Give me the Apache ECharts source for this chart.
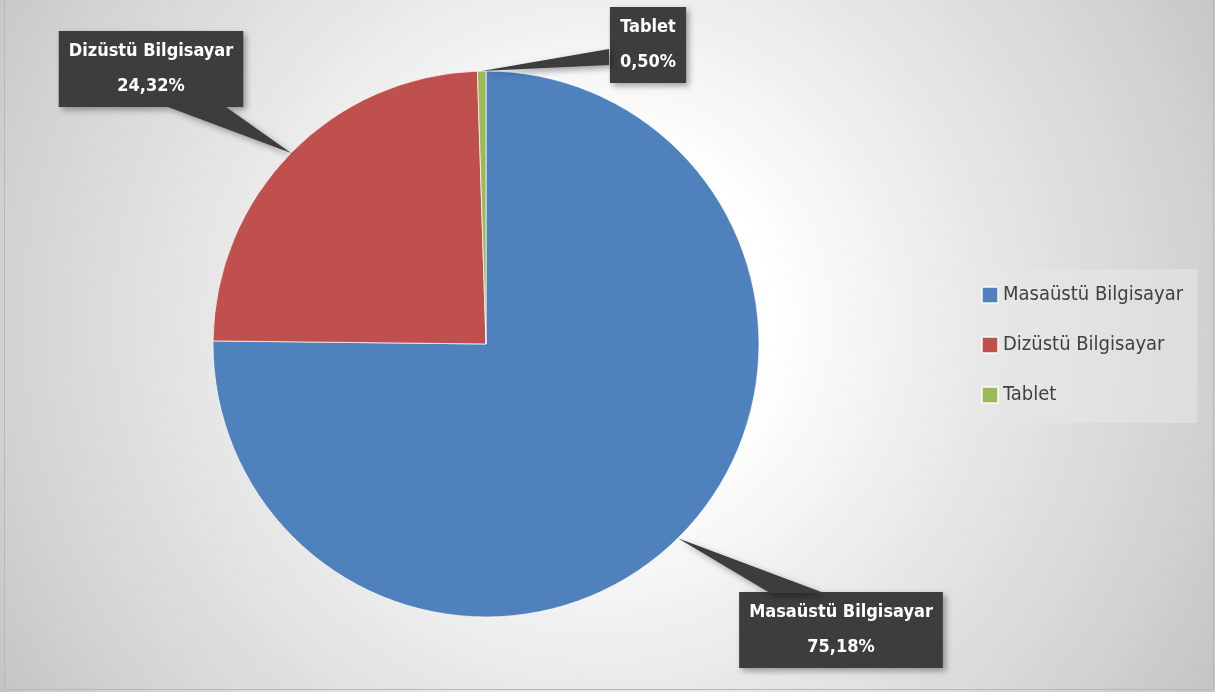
<!DOCTYPE html>
<html>
<head>
<meta charset="utf-8">
<script src="https://cdn.jsdelivr.net/npm/echarts@6/dist/echarts.min.js"></script>
<style>
  html, body { margin: 0; padding: 0; }
  body { width: 1215px; height: 692px; position: relative; overflow: hidden; background: #cfcfcf; }
  #chart {
    position: absolute; left: 0; top: 0; width: 1215px; height: 692px;
    background: radial-gradient(circle at 600px 320px, #ffffff 0px, #ffffff 170px, #e6e6e6 400px, #d2d2d2 600px, #c3c3c3 720px);
  }
  .frame {
    position: absolute; left: 4px; top: -1px; width: 1208px; height: 689px;
    border: 1px solid #b9b9b9; pointer-events: none;
  }
</style>
</head>
<body>
<div id="chart"></div>
<div class="frame"></div>
<script>
const categories = ['Masaüstü Bilgisayar', 'Dizüstü Bilgisayar', 'Tablet']
const shares = [75.18, 24.32, 0.50]
const colors = ['#4f81bd', '#c0504d', '#9bbb59']

// callout box centres and the two base corners of each pointer wedge
const calloutBox = [{ x: 841, y: 630 }, { x: 151, y: 69 }, { x: 648, y: 45 }]
const calloutBase = [
  [[770, 593], [824, 593]],
  [[168, 107], [226, 107]],
  [[609, 49], [609, 65]],
]

const pieCenter = [486, 344]
const pieRadius = 273
const font = "'Liberation Sans Narrow', 'DejaVu Sans Condensed', sans-serif"
const boxColor = '#3d3d3d'

function fmt(v) {
  return v.toFixed(2).replace('.', ',') + '%'
}

// pointer tips sit on the rim at each slice's mid angle
function wedges() {
  const total = shares.reduce((a, b) => a + b, 0)
  let start = 90
  return shares.map((v, i) => {
    const span = v / total * 360
    const mid = (start - span / 2) * Math.PI / 180
    start -= span
    const tip = [pieCenter[0] + pieRadius * Math.cos(mid), pieCenter[1] - pieRadius * Math.sin(mid)]
    return {
      type: 'polygon',
      z: 3,
      shape: { points: [tip, calloutBase[i][0], calloutBase[i][1]] },
      style: {
        fill: boxColor,
        shadowBlur: 6, shadowOffsetX: 3, shadowOffsetY: 3, shadowColor: 'rgba(0,0,0,0.35)',
      },
    }
  })
}

const chart = echarts.init(document.getElementById('chart'))
chart.setOption({
  backgroundColor: 'transparent',
  color: colors,
  legend: {
    orient: 'vertical',
    left: 975,
    top: 269,
    padding: [14, 14, 16, 6],
    backgroundColor: 'rgba(232,232,232,0.55)',
    itemWidth: 16,
    itemHeight: 16,
    itemGap: 26,
    icon: 'rect',
    data: categories,
    textStyle: { fontFamily: font, fontSize: 20, color: '#404040', lineHeight: 24 },
  },
  graphic: wedges(),
  series: [{
    type: 'pie',
    center: pieCenter,
    radius: pieRadius,
    startAngle: 90,
    clockwise: true,
    avoidLabelOverlap: false,
    animation: false,
    itemStyle: { borderColor: 'rgba(255,255,255,0.7)', borderWidth: 1 },
    label: {
      show: true,
      position: 'outside',
      formatter: p => p.name + '\n' + fmt(p.value),
      fontFamily: font,
      fontWeight: 'bold',
      fontSize: 18,
      lineHeight: 35,
      color: '#ffffff',
      align: 'center',
      backgroundColor: boxColor,
      padding: [6, 10, 0, 10],
      shadowBlur: 6,
      shadowOffsetX: 3,
      shadowOffsetY: 3,
      shadowColor: 'rgba(0,0,0,0.35)',
    },
    labelLine: { show: false },
    labelLayout: params => {
      const b = calloutBox[params.dataIndex]
      return { x: b.x, y: b.y, align: 'center', verticalAlign: 'middle' }
    },
    data: categories.map((name, i) => ({ name, value: shares[i] })),
  }],
})
window.addEventListener('resize', () => chart.resize())
</script>
</body>
</html>
